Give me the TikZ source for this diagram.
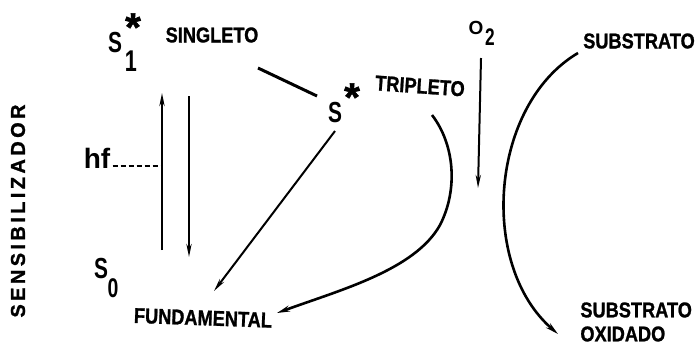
\documentclass[tikz,border=0pt]{standalone}
\usepackage{fontspec}
\usepackage{graphicx}
\setmainfont{Liberation Sans}
\usetikzlibrary{arrows.meta}

\newcommand{\cond}[1]{\scalebox{0.85}[1]{#1}}
\newcommand{\estl}[1]{\scalebox{0.72}[1]{#1}}

\tikzset{
  lbl/.style={font=\fontsize{10.7}{12}\selectfont\bfseries\addfontfeature{FakeBold=1.2}, inner sep=0pt},
  est/.style={font=\fontsize{14.5}{15}\selectfont\bfseries, inner sep=0pt},
  idx/.style={font=\fontsize{13.5}{14}\selectfont\bfseries, inner sep=0pt},
  exc/.style={font=\fontsize{20}{20}\selectfont\bfseries\addfontfeature{FakeBold=1.5}, inner sep=0pt, anchor=north},
  flow/.style={line width=1pt, -{Stealth[length=6.5pt,width=2.6pt]}},
  curva/.style={line width=1.3pt, -{Stealth[length=6.5pt,width=3pt]}},
}

\begin{document}
\begin{tikzpicture}[x=0.5pt,y=-0.5pt]
  \useasboundingbox (0,0) rectangle (699,345);

  % textos
  \node[lbl,font=\fontsize{10}{10}\selectfont\bfseries\addfontfeature{FakeBold=1.2},rotate=90] (sens) at (18,211)
       {\addfontfeature{LetterSpace=17}SENSIBILIZADOR};
  \node[est] (s1) at (115,43) {\estl{S}};
  \node[idx,font=\fontsize{15}{15}\selectfont\bfseries] (s1i) at (131,61) {\estl{1}};
  \node[exc] (s1e) at (133,13) {*};
  \node[lbl] (singleto) at (212,35) {\cond{SINGLETO}};
  \node[est] (s3) at (335,113) {\estl{S}};
  \node[exc] (s3e) at (352,83) {*};
  \node[lbl,rotate=-4] (tripleto) at (420,86) {\cond{TRIPLETO}};
  \node[lbl,font=\fontsize{9.5}{9.5}\selectfont\bfseries] (o2) at (476,28) {O};
  \node[idx,font=\fontsize{12}{12}\selectfont\bfseries] (o2i) at (490,37) {\estl{2}};
  \node[lbl] (substrato) at (639,41) {\cond{SUBSTRATO}};
  \node[est,font=\fontsize{14}{14}\selectfont\bfseries] (hf) at (97,158) {hf};
  \node[est] (s0) at (101,269) {\estl{S}};
  \node[idx] (s0i) at (113,288) {\estl{0}};
  \node[lbl,rotate=-2] (fundamental) at (203,318) {\cond{FUNDAMENTAL}};
  \node[lbl,align=left,anchor=north west] (subox) at (580,302)
       {\cond{SUBSTRATO}\\\cond{OXIDADO}};

  % extremos dos conectores
  \coordinate (sg) at (258,68);
  \coordinate (tr) at (317,96);
  \coordinate (absI) at (162,250);
  \coordinate (absF) at (162,93);
  \coordinate (emiI) at (189,96);
  \coordinate (emiF) at (189,257);
  \coordinate (hfF) at (161,166);
  \coordinate (tdI) at (335,131);
  \coordinate (tdF) at (214,291);
  \coordinate (tcI) at (432,115);
  \coordinate (tcF) at (277,313);
  \coordinate (o2I) at (481,58);
  \coordinate (o2F) at (478,188);
  \coordinate (sbI) at (578,53);
  \coordinate (sbF) at (558,334);

  % conectores
  \draw[line width=1.5pt] (sg) -- (tr);
  \draw[flow] (absI) -- (absF);
  \draw[flow] (emiI) -- (emiF);
  \draw[line width=1pt,dash pattern=on 2.5pt off 1.5pt] ([xshift=1pt]hf.east |- hfF) -- (hfF);
  \draw[flow] (tdI) -- (tdF);
  \draw[curva] (tcI) .. controls (455,145) and (458,190) .. (440,225)
               .. controls (415,270) and (340,290) .. (tcF);
  \draw[flow] (o2I) -- (o2F);
  \draw[curva] (sbI) .. controls (490,105) and (478,265) .. (sbF);
\end{tikzpicture}
\end{document}
